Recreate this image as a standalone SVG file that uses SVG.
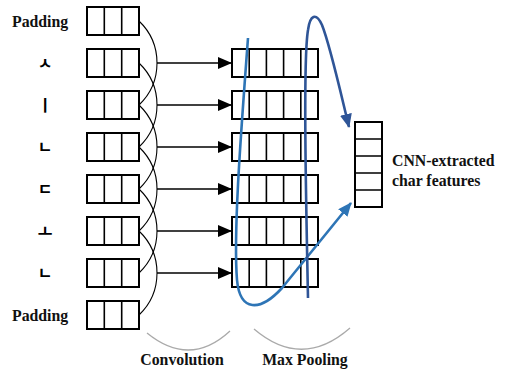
<svg xmlns="http://www.w3.org/2000/svg" width="505" height="371" viewBox="0 0 505 371">
<defs>
<style>
.box{fill:#fff;stroke:#000;stroke-width:2}
.div{stroke:#000;stroke-width:1.6}
.lbl{font-family:"Liberation Serif",serif;font-weight:bold;font-size:15.8px;fill:#111}
.jamo{font-family:"Noto Sans CJK KR",sans-serif;font-weight:bold;font-size:16px;fill:#000;text-anchor:middle}
.arc{fill:none;stroke:#000;stroke-width:1.1}
.arr{stroke:#000;stroke-width:1.6;marker-end:url(#ah)}
.gray{fill:none;stroke:#aaa;stroke-width:1.3}
</style>
<marker id="ah" markerUnits="userSpaceOnUse" markerWidth="14" markerHeight="12" refX="14" refY="6" orient="auto"><path d="M0,0 L14,6 L0,12 Z" fill="#000"/></marker>
<marker id="bl1" markerUnits="userSpaceOnUse" markerWidth="14" markerHeight="12" refX="13" refY="6" orient="auto"><path d="M0,0 L14,6 L0,12 Z" fill="#2E75B6"/></marker>
<marker id="bl2" markerUnits="userSpaceOnUse" markerWidth="14" markerHeight="12" refX="13" refY="6" orient="auto"><path d="M0,0 L14,6 L0,12 Z" fill="#2F5597"/></marker>
</defs>

<g id="in-labels">
<text class="lbl" x="12" y="27">Padding</text>
<text class="jamo" x="45" y="69">ㅅ</text>
<text class="jamo" x="45" y="111">ㅣ</text>
<text class="jamo" x="45" y="153">ㄴ</text>
<text class="jamo" x="45" y="195">ㄷ</text>
<text class="jamo" x="45" y="237">ㅗ</text>
<text class="jamo" x="45" y="279">ㄴ</text>
<text class="lbl" x="12" y="321">Padding</text>
</g>

<g id="input-vectors">
<g id="in1"><rect class="box" x="87" y="7" width="52" height="28"/><path class="div" d="M104.3,7V35M121.7,7V35"/></g>
<g id="in2"><rect class="box" x="87" y="49" width="52" height="28"/><path class="div" d="M104.3,49V77M121.7,49V77"/></g>
<g id="in3"><rect class="box" x="87" y="91" width="52" height="28"/><path class="div" d="M104.3,91V119M121.7,91V119"/></g>
<g id="in4"><rect class="box" x="87" y="133" width="52" height="28"/><path class="div" d="M104.3,133V161M121.7,133V161"/></g>
<g id="in5"><rect class="box" x="87" y="175" width="52" height="28"/><path class="div" d="M104.3,175V203M121.7,175V203"/></g>
<g id="in6"><rect class="box" x="87" y="217" width="52" height="28"/><path class="div" d="M104.3,217V245M121.7,217V245"/></g>
<g id="in7"><rect class="box" x="87" y="259" width="52" height="28"/><path class="div" d="M104.3,259V287M121.7,259V287"/></g>
<g id="in8"><rect class="box" x="87" y="301" width="52" height="28"/><path class="div" d="M104.3,301V329M121.7,301V329"/></g>
</g>

<g id="conv-vectors">
<g id="c1"><rect class="box" x="232" y="49" width="86" height="28"/><path class="div" d="M249.2,49V77M266.4,49V77M283.6,49V77M300.8,49V77"/></g>
<g id="c2"><rect class="box" x="232" y="91" width="86" height="28"/><path class="div" d="M249.2,91V119M266.4,91V119M283.6,91V119M300.8,91V119"/></g>
<g id="c3"><rect class="box" x="232" y="133" width="86" height="28"/><path class="div" d="M249.2,133V161M266.4,133V161M283.6,133V161M300.8,133V161"/></g>
<g id="c4"><rect class="box" x="232" y="175" width="86" height="28"/><path class="div" d="M249.2,175V203M266.4,175V203M283.6,175V203M300.8,175V203"/></g>
<g id="c5"><rect class="box" x="232" y="217" width="86" height="28"/><path class="div" d="M249.2,217V245M266.4,217V245M283.6,217V245M300.8,217V245"/></g>
<g id="c6"><rect class="box" x="232" y="259" width="86" height="28"/><path class="div" d="M249.2,259V287M266.4,259V287M283.6,259V287M300.8,259V287"/></g>
</g>

<g id="feature-vector">
<rect class="box" x="355" y="122" width="27" height="85"/>
<path class="div" d="M355,139H382M355,156H382M355,173H382M355,190H382"/>
<text class="lbl" x="392" y="166">CNN-extracted</text>
<text class="lbl" x="392" y="186">char features</text>
</g>

<g id="connectors">
<path class="arc" d="M139,21 A58,58 0 0 1 139,105"/>
<path class="arc" d="M139,63 A58,58 0 0 1 139,147"/>
<path class="arc" d="M139,105 A58,58 0 0 1 139,189"/>
<path class="arc" d="M139,147 A58,58 0 0 1 139,231"/>
<path class="arc" d="M139,189 A58,58 0 0 1 139,273"/>
<path class="arc" d="M139,231 A58,58 0 0 1 139,315"/>
<line class="arr" x1="157" y1="63" x2="232" y2="63"/>
<line class="arr" x1="157" y1="105" x2="232" y2="105"/>
<line class="arr" x1="157" y1="147" x2="232" y2="147"/>
<line class="arr" x1="157" y1="189" x2="232" y2="189"/>
<line class="arr" x1="157" y1="231" x2="232" y2="231"/>
<line class="arr" x1="157" y1="273" x2="232" y2="273"/>
<path d="M248,38 C242,120 233,230 237,280 C240,312 260,312 282,288 L351,203" fill="none" stroke="#2E75B6" stroke-width="2.6" marker-end="url(#bl1)"/>
<path d="M308,298 C306,200 303,60 308,30 C310,15 316,12 322,25 C330,45 340,90 349,127" fill="none" stroke="#2F5597" stroke-width="2.6" marker-end="url(#bl2)"/>
<path class="gray" d="M147,333 Q190,368 230,331"/>
<path class="gray" d="M254,329 Q302,370 350,328"/>
</g>

<g id="bottom-labels">
<text class="lbl" x="182" y="365" text-anchor="middle">Convolution</text>
<text class="lbl" x="305" y="365" text-anchor="middle">Max Pooling</text>
</g>
</svg>
